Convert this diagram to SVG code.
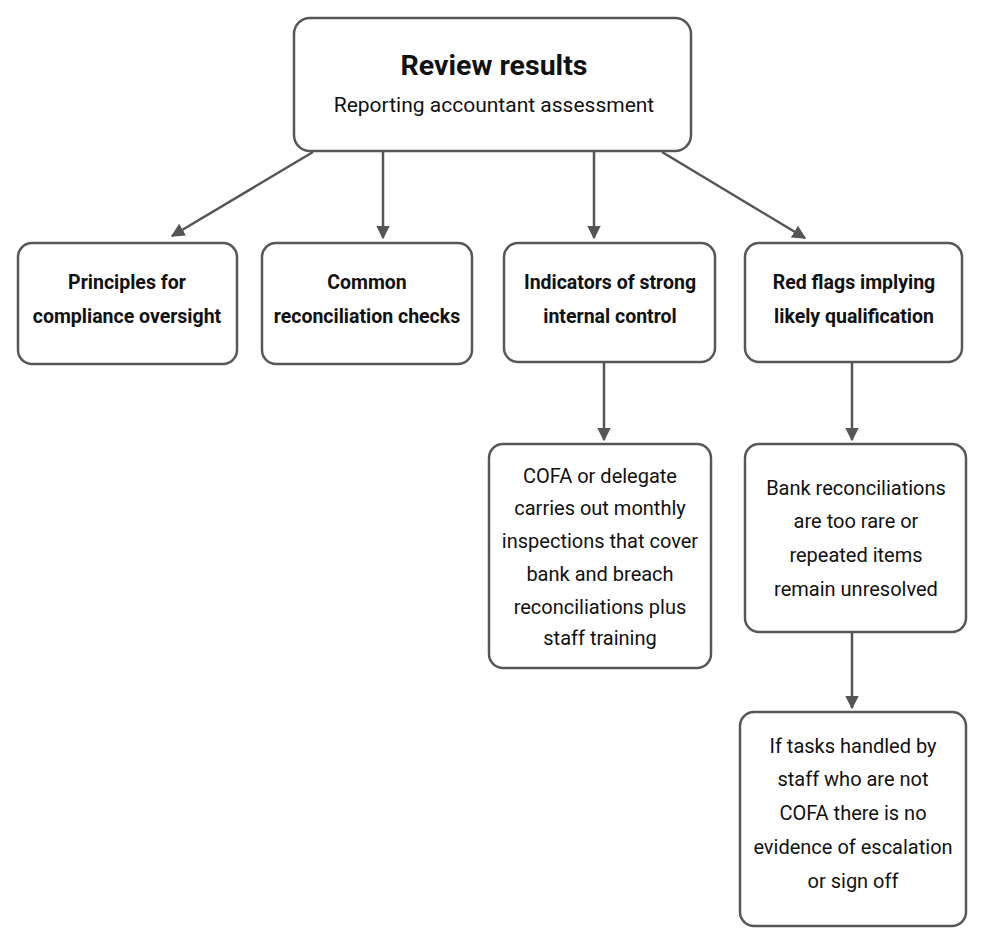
<svg xmlns="http://www.w3.org/2000/svg" width="984" height="944" viewBox="0 0 984 944">
<style>
.box{fill:#ffffff;stroke:#575757;stroke-width:2.5}
.t{font-family:Roboto,"Liberation Sans",sans-serif;fill:#111;text-anchor:middle}
.b{font-weight:bold;font-size:19.5px}
.r{font-size:20px}
.con{stroke:#555;stroke-width:2.5;fill:none;marker-end:url(#ah)}
</style>
<defs>
<marker id="ah" viewBox="0 0 10 10" refX="9" refY="5" markerWidth="5.5" markerHeight="5.5" markerUnits="strokeWidth" orient="auto">
<path d="M0,0 L10,5 L0,10 z" fill="#555"/>
</marker>
</defs>
<rect width="984" height="944" fill="#ffffff"/>
<g id="connectors">
<line class="con" x1="313" y1="152" x2="172" y2="236"/>
<line class="con" x1="383" y1="152" x2="383" y2="238"/>
<line class="con" x1="594" y1="152" x2="594" y2="238"/>
<line class="con" x1="662" y1="152" x2="805" y2="238"/>
<line class="con" x1="604" y1="362" x2="604" y2="440"/>
<line class="con" x1="852" y1="362" x2="852" y2="440"/>
<line class="con" x1="852" y1="632" x2="852" y2="708"/>
</g>
<g id="review">
<rect class="box" x="294" y="18" width="397" height="133" rx="16"/>
<text class="t" x="494" y="75" font-weight="bold" font-size="28.5">Review results</text>
<text class="t" x="494" y="112" font-size="21">Reporting accountant assessment</text>
</g>
<g id="principles">
<rect class="box" x="18" y="243" width="219" height="121" rx="14"/>
<text class="t b" x="127" y="289">Principles for</text>
<text class="t b" x="127" y="323">compliance oversight</text>
</g>
<g id="common">
<rect class="box" x="262" y="243" width="210" height="121" rx="14"/>
<text class="t b" x="367" y="289">Common</text>
<text class="t b" x="367" y="323">reconciliation checks</text>
</g>
<g id="indicators">
<rect class="box" x="504" y="243" width="211" height="119" rx="14"/>
<text class="t b" x="610" y="289">Indicators of strong</text>
<text class="t b" x="610" y="323">internal control</text>
</g>
<g id="redflags">
<rect class="box" x="745" y="243" width="217" height="119" rx="14"/>
<text class="t b" x="854" y="289">Red flags implying</text>
<text class="t b" x="854" y="323">likely qualification</text>
</g>
<g id="cofa">
<rect class="box" x="489" y="444" width="222" height="224" rx="14"/>
<text class="t r" x="600" y="483">COFA or delegate</text>
<text class="t r" x="600" y="515">carries out monthly</text>
<text class="t r" x="600" y="548">inspections that cover</text>
<text class="t r" x="600" y="581">bank and breach</text>
<text class="t r" x="600" y="614">reconciliations plus</text>
<text class="t r" x="600" y="645">staff training</text>
</g>
<g id="bank">
<rect class="box" x="745" y="444" width="221" height="188" rx="14"/>
<text class="t r" x="856" y="495">Bank reconciliations</text>
<text class="t r" x="856" y="528">are too rare or</text>
<text class="t r" x="856" y="562">repeated items</text>
<text class="t r" x="856" y="596">remain unresolved</text>
</g>
<g id="tasks">
<rect class="box" x="740" y="712" width="226" height="214" rx="14"/>
<text class="t r" x="853" y="753">If tasks handled by</text>
<text class="t r" x="853" y="786">staff who are not</text>
<text class="t r" x="853" y="820">COFA there is no</text>
<text class="t r" x="853" y="854">evidence of escalation</text>
<text class="t r" x="853" y="888">or sign off</text>
</g>
</svg>
